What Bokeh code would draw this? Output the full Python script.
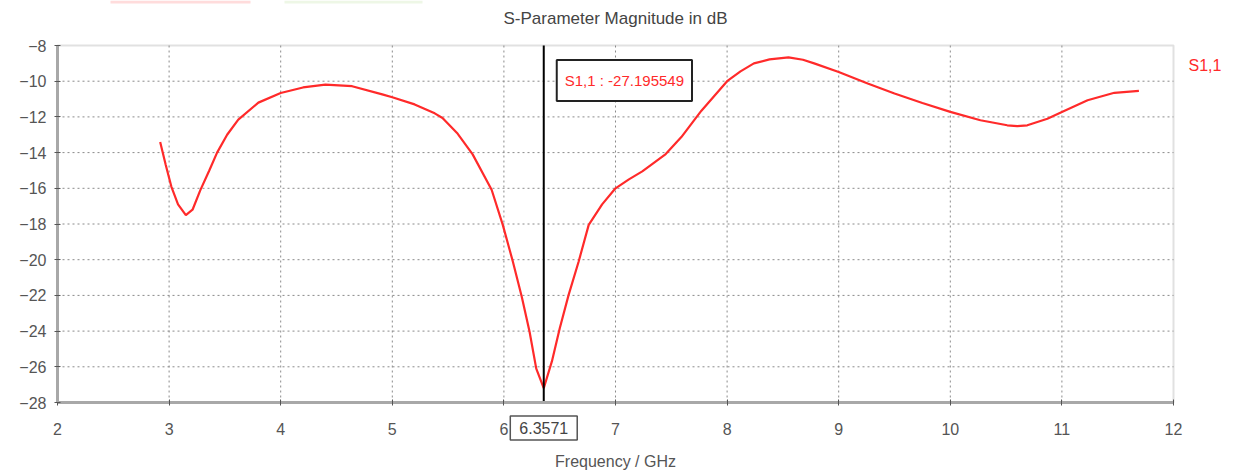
from bokeh.plotting import figure
from bokeh.models import Label, Range1d, FixedTicker, LinearAxis, BoxAnnotation
from bokeh.embed import file_html
from bokeh.resources import INLINE

# ---- data ----
freq_ghz = [2.92, 2.97, 3.02, 3.08, 3.15, 3.21, 3.28, 3.36, 3.43, 3.52, 3.62, 3.80, 4.00, 4.20, 4.40,
            4.64, 4.91, 5.00, 5.20, 5.38, 5.45, 5.58, 5.72, 5.89, 5.99, 6.08, 6.16, 6.23, 6.29,
            6.357, 6.43, 6.50, 6.58, 6.67, 6.76, 6.88, 7.00, 7.12, 7.24, 7.45, 7.59, 7.77,
            8.00, 8.12, 8.24, 8.38, 8.55, 8.68, 8.78, 9.00, 9.26, 9.50, 9.75, 10.00, 10.27, 10.51,
            10.60, 10.69, 10.87, 11.00, 11.23, 11.47, 11.69]
s11_db = [-13.4, -14.7, -15.9, -16.9, -17.5, -17.2, -16.1, -15.0, -14.0, -13.0, -12.15, -11.2, -10.66,
          -10.35, -10.19, -10.28, -10.74, -10.9, -11.3, -11.8, -12.06, -12.9, -14.1, -16.08, -18.05,
          -20.1, -22.07, -24.04, -26.1, -27.2, -25.7, -23.85, -21.97, -20.1, -18.05, -16.9, -16.0,
          -15.5, -15.05, -14.08, -13.13, -11.65, -10.0, -9.45, -9.0, -8.78, -8.67, -8.8, -9.0, -9.48,
          -10.13, -10.69, -11.22, -11.72, -12.19, -12.47, -12.52, -12.47, -12.1, -11.72, -11.07,
          -10.65, -10.54]
x_ticks = [2, 3, 4, 5, 6, 7, 8, 9, 10, 11, 12]
y_ticks = [-8, -10, -12, -14, -16, -18, -20, -22, -24, -26, -28]
marker_freq = 6.3571
marker_value = -27.195549
title_text = "S-Parameter Magnitude in dB"
x_label = "Frequency / GHz"
series_name = "S1,1"

FONT = "Liberation Sans"
RED = "#ff2a2a"
W, H = 1259, 473
# pixel placement of the plotting area inside the page
PL, PR, PT, PB = 57, 1173, 45, 402

x0, x1 = x_ticks[0], x_ticks[-1]
y0, y1 = y_ticks[-1], y_ticks[0]
sx = (PR - PL) / (x1 - x0)
sy = (PB - PT) / (y1 - y0)
xr = Range1d(x0 - PL / sx, x1 + (W - PR) / sx)
yr = Range1d(y0 - (H - PB) / sy, y1 + PT / sy)

p = figure(width=W, height=H, output_backend="svg", toolbar_location=None,
           x_range=xr, y_range=yr, x_axis_location=None, y_axis_location=None,
           min_border=0)
p.background_fill_color = "white"
p.border_fill_color = "white"
p.outline_line_color = None
p.grid.visible = False

# dotted grid limited to the plotting area
nx, ny = len(x_ticks) - 2, len(y_ticks) - 2
p.segment(x0=x_ticks[1:-1], y0=[y0] * nx, x1=x_ticks[1:-1], y1=[y1] * nx,
          line_color="#8a8a8a", line_dash="2 3", line_width=1)
p.segment(x0=[x0] * ny, y0=y_ticks[1:-1], x1=[x1] * ny, y1=y_ticks[1:-1],
          line_color="#8a8a8a", line_dash="2 3", line_width=1)

# frame of the plotting area
p.add_layout(BoxAnnotation(left=x0, right=x1, bottom=y0, top=y1, fill_alpha=0,
                           line_color="#9a9a9a", line_width=2, level="underlay"))

xaxis = LinearAxis(fixed_location=y0, bounds=(x0, x1), ticker=FixedTicker(ticks=x_ticks))
yaxis = LinearAxis(fixed_location=x0, bounds=(y0, y1), ticker=FixedTicker(ticks=y_ticks))
for ax in (xaxis, yaxis):
    ax.axis_line_color = "#a8a8a8"
    ax.axis_line_width = 3
    ax.major_tick_line_color = "#555555"
    ax.major_tick_in = 3
    ax.major_tick_out = 3
    ax.minor_tick_line_color = None
    ax.major_label_text_font = FONT
    ax.major_label_text_font_size = "16px"
    ax.major_label_text_color = "#555555"
xaxis.major_label_standoff = 17
yaxis.major_label_standoff = 8
p.add_layout(xaxis, "below")
p.add_layout(yaxis, "left")

p.line(freq_ghz, s11_db, line_color=RED, line_width=2.2)

# marker line across the plotting area
p.segment(x0=[marker_freq], y0=[y0], x1=[marker_freq], y1=[y1], line_color="black", line_width=2)

p.add_layout(Label(x=7.0, y=y1, y_offset=27, text=title_text, text_align="center",
                   text_baseline="middle", text_font=FONT, text_font_size="17px",
                   text_color="#444444"))
p.add_layout(Label(x=7.0, y=y0, y_offset=-59, text=x_label, text_align="center",
                   text_baseline="middle", text_font=FONT, text_font_size="16px",
                   text_color="#555555"))
p.add_layout(Label(x=x1, y=y1, x_offset=15, y_offset=-20, text=series_name,
                   text_align="left", text_baseline="middle", text_font=FONT,
                   text_font_size="16px", text_color=RED))
p.add_layout(Label(x=marker_freq, y=y0, y_offset=-25.5, text=f"{marker_freq:.4f}",
                   text_align="center", text_baseline="middle", text_font=FONT,
                   text_font_size="16px", text_color="#444444",
                   background_fill_color="white", border_line_color="#555555",
                   border_line_width=1.5, padding=(9, 6)))
p.add_layout(Label(x=marker_freq, y=y1, x_offset=13, y_offset=-35,
                   text=f"{series_name} : {marker_value:.6f}",
                   text_align="left", text_baseline="middle", text_font=FONT,
                   text_font_size="15px", text_color=RED,
                   background_fill_color="white", border_line_color="#222222",
                   border_line_width=2, padding=(8, 12)))

# faint colour strips at the very top of the page
p.add_layout(BoxAnnotation(left=x0 + (110 - PL) / sx, right=x0 + (250 - PL) / sx,
                           top=yr.end, bottom=yr.end - 3 / sy,
                           fill_color="#ffdcdc", fill_alpha=1, line_alpha=0))
p.add_layout(BoxAnnotation(left=x0 + (284 - PL) / sx, right=x0 + (422 - PL) / sx,
                           top=yr.end, bottom=yr.end - 3 / sy,
                           fill_color="#eef7e6", fill_alpha=1, line_alpha=0))

open("out.html", "w").write(file_html(p, INLINE))
